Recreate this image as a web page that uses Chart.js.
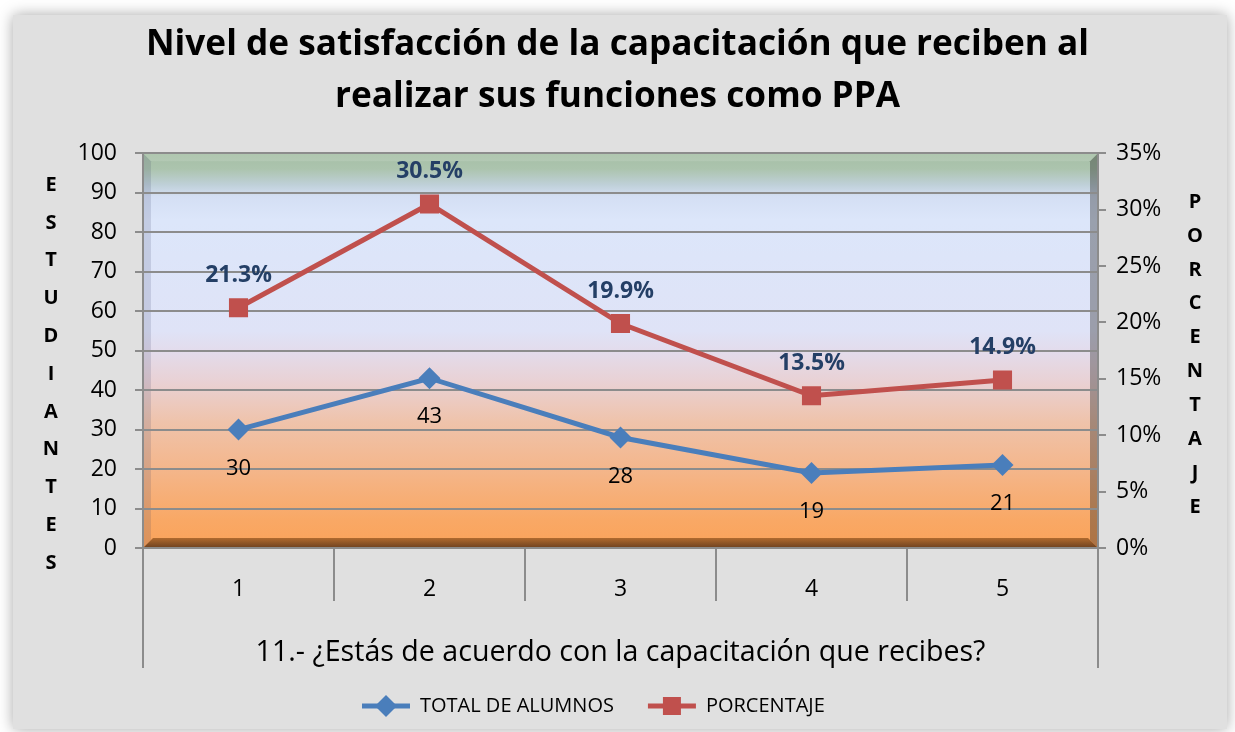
<!DOCTYPE html>
<html>
<head>
<meta charset="utf-8">
<script src="https://cdn.jsdelivr.net/npm/chart.js@4.4.1/dist/chart.umd.min.js"></script>
<style>
  html, body { margin: 0; padding: 0; background: #fff; }
  #wrap { width: 1235px; height: 732px; }
</style>
</head>
<body>
<div id="wrap"><canvas id="chart" width="1235" height="732"></canvas></div>
<script>
// data
const categories = ['1', '2', '3', '4', '5'];
const totalAlumnos = [30, 43, 28, 19, 21];
const porcentaje = [21.3, 30.5, 19.9, 13.5, 14.9];
const titleLines = ['Nivel de satisfacción de la capacitación que reciben al', 'realizar sus funciones como PPA'];
const xTitle = '11.- ¿Estás de acuerdo con la capacitación que recibes?';
const leftTitle = 'ESTUDIANTES';
const rightTitle = 'PORCENTAJE';

const FONT = '"Open Sans", "Noto Sans", sans-serif';
const GRID = '#8c8c8c';

// panel + plot-area gradient with bevel
const backgroundPlugin = {
  id: 'background',
  beforeDraw(chart) {
    const ctx = chart.ctx;
    const a = chart.chartArea;

    // legend sits a little left of centre in the original
    const lg = chart.legend;
    if (!lg._moved && lg.legendHitBoxes.length) {
      const first = lg.legendHitBoxes[0];
      const dx = 362 - first.left;
      const dy = 706 - (first.top + first.height / 2);
      lg.left += dx; lg.right += dx; lg.top += dy; lg.bottom += dy;
      lg.legendHitBoxes.forEach(h => { h.left += dx; h.top += dy; });
      lg._moved = true;
    }

    ctx.save();
    ctx.fillStyle = '#fff';
    ctx.fillRect(0, 0, chart.width, chart.height);
    ctx.shadowColor = 'rgba(0,0,0,0.35)';
    ctx.shadowBlur = 14;
    ctx.fillStyle = '#e0e0e0';
    ctx.fillRect(13, 15, 1214, 714);
    ctx.shadowColor = 'transparent';
    ctx.shadowBlur = 0;

    const g = ctx.createLinearGradient(0, a.top, 0, a.bottom);
    g.addColorStop(0, '#a5bfa5');
    g.addColorStop(0.04, '#acc4ae');
    g.addColorStop(0.08, '#bfd0d8');
    g.addColorStop(0.11, '#d4dff4');
    g.addColorStop(0.17, '#dce6fa');
    g.addColorStop(0.45, '#dfe3f7');
    g.addColorStop(0.5, '#e3dcec');
    g.addColorStop(0.58, '#e9d1d4');
    g.addColorStop(0.68, '#efc3ab');
    g.addColorStop(0.8, '#f4b68b');
    g.addColorStop(0.93, '#f9a865');
    g.addColorStop(1, '#fba35a');
    ctx.fillStyle = g;
    ctx.fillRect(a.left, a.top, a.right - a.left, a.bottom - a.top);

    const b = 8;
    // left bevel
    ctx.fillStyle = 'rgba(40,50,90,0.14)';
    ctx.beginPath();
    ctx.moveTo(a.left, a.top); ctx.lineTo(a.left + b, a.top + b);
    ctx.lineTo(a.left + b, a.bottom - b); ctx.lineTo(a.left, a.bottom);
    ctx.closePath(); ctx.fill();
    // right bevel
    ctx.fillStyle = 'rgba(30,30,30,0.35)';
    ctx.beginPath();
    ctx.moveTo(a.right, a.top); ctx.lineTo(a.right - b, a.top + b);
    ctx.lineTo(a.right - b, a.bottom - b); ctx.lineTo(a.right, a.bottom);
    ctx.closePath(); ctx.fill();
    // top bevel
    ctx.fillStyle = 'rgba(255,255,255,0.12)';
    ctx.beginPath();
    ctx.moveTo(a.left, a.top); ctx.lineTo(a.right, a.top);
    ctx.lineTo(a.right - b, a.top + b); ctx.lineTo(a.left + b, a.top + b);
    ctx.closePath(); ctx.fill();
    // bottom bevel
    const bg = ctx.createLinearGradient(0, a.bottom - 10, 0, a.bottom);
    bg.addColorStop(0, '#b06a2e');
    bg.addColorStop(1, '#6d4120');
    ctx.fillStyle = bg;
    ctx.beginPath();
    ctx.moveTo(a.left, a.bottom); ctx.lineTo(a.right, a.bottom);
    ctx.lineTo(a.right - 10, a.bottom - 10); ctx.lineTo(a.left + 10, a.bottom - 10);
    ctx.closePath(); ctx.fill();
    ctx.restore();
  }
};

// value labels next to the points
const labelsPlugin = {
  id: 'pointLabels',
  afterDatasetsDraw(chart) {
    const ctx = chart.ctx;
    ctx.save();
    ctx.textAlign = 'center';
    ctx.textBaseline = 'middle';
    chart.getDatasetMeta(0).data.forEach((pt, i) => {
      ctx.font = '22px ' + FONT;
      ctx.fillStyle = '#000';
      ctx.fillText(String(totalAlumnos[i]), pt.x, pt.y + 39);
    });
    chart.getDatasetMeta(1).data.forEach((pt, i) => {
      ctx.font = 'bold 23px ' + FONT;
      ctx.fillStyle = '#243f66';
      ctx.fillText(porcentaje[i].toFixed(1) + '%', pt.x, pt.y - 32);
    });
    ctx.restore();
  }
};

// stacked axis titles, long outer axis lines, legend markers
const extrasPlugin = {
  id: 'extras',
  afterDraw(chart) {
    const ctx = chart.ctx;
    const a = chart.chartArea;
    ctx.save();
    ctx.strokeStyle = GRID;
    ctx.lineWidth = 2;
    ctx.beginPath();
    ctx.moveTo(a.left, a.bottom); ctx.lineTo(a.left, 668);
    ctx.moveTo(a.right, a.bottom); ctx.lineTo(a.right, 668);
    ctx.stroke();

    ctx.fillStyle = '#000';
    ctx.font = 'bold 20px ' + FONT;
    ctx.textAlign = 'center';
    ctx.textBaseline = 'middle';
    leftTitle.split('').forEach((ch, i) => ctx.fillText(ch, 51, 185 + i * 37.8));
    rightTitle.split('').forEach((ch, i) => ctx.fillText(ch, 1195, 202 + i * 33.9));

    const legend = chart.legend;
    legend.legendHitBoxes.forEach((box, i) => {
      const ds = chart.data.datasets[i];
      const cx = box.left + 24;
      const cy = box.top + box.height / 2;
      ctx.fillStyle = ds.borderColor;
      ctx.beginPath();
      if (i === 0) {
        ctx.moveTo(cx, cy - 11); ctx.lineTo(cx + 11, cy);
        ctx.lineTo(cx, cy + 11); ctx.lineTo(cx - 11, cy);
      } else {
        ctx.rect(cx - 9, cy - 9, 18, 18);
      }
      ctx.closePath();
      ctx.fill();
    });
    ctx.restore();
  }
};

new Chart(document.getElementById('chart'), {
  type: 'line',
  data: {
    labels: categories,
    datasets: [
      {
        label: 'TOTAL DE ALUMNOS',
        data: totalAlumnos,
        yAxisID: 'y',
        borderColor: '#4a7ebb',
        backgroundColor: '#4a7ebb',
        borderWidth: 5,
        pointStyle: 'rectRot',
        pointRadius: 11,
        pointBorderWidth: 0,
        tension: 0
      },
      {
        label: 'PORCENTAJE',
        data: porcentaje,
        yAxisID: 'y1',
        borderColor: '#c0504d',
        backgroundColor: '#c0504d',
        borderWidth: 5,
        pointStyle: 'rect',
        pointRadius: 13.5,
        pointBorderWidth: 0,
        tension: 0
      }
    ]
  },
  options: {
    responsive: false,
    animation: false,
    events: [],
    layout: { padding: { left: 0, right: 0, top: 0, bottom: 3 } },
    plugins: {
      title: {
        display: true,
        text: titleLines,
        color: '#000',
        font: { family: FONT, size: 35.2, weight: 'bold', lineHeight: 1.48 },
        padding: { top: 19, bottom: 30 }
      },
      legend: {
        position: 'bottom',
        labels: {
          color: '#000',
          font: { family: FONT, size: 20 },
          boxWidth: 48,
          boxHeight: 5,
          padding: 34,
          generateLabels(chart) {
            return chart.data.datasets.map((ds, i) => ({
              text: ds.label,
              fillStyle: ds.borderColor,
              strokeStyle: ds.borderColor,
              lineWidth: 0,
              datasetIndex: i,
              hidden: false
            }));
          }
        }
      },
      tooltip: { enabled: false }
    },
    scales: {
      x: {
        offset: true,
        afterFit(scale) { scale.height = 117; },
        grid: { offset: true, drawOnChartArea: false, color: GRID, lineWidth: 2, tickLength: 53 },
        border: { display: false },
        ticks: { color: '#000', font: { family: FONT, size: 23 }, padding: -25 },
        title: {
          display: true,
          text: xTitle,
          color: '#000',
          font: { family: FONT, size: 28.6 },
          padding: { top: 0, bottom: -5 }
        }
      },
      y: {
        position: 'left',
        min: 0,
        max: 100,
        afterFit(scale) { scale.width = 143; },
        ticks: { stepSize: 10, color: '#000', font: { family: FONT, size: 23 }, padding: 18 },
        grid: { color: GRID, lineWidth: 2, tickLength: 8 },
        border: { color: GRID, width: 2 }
      },
      y1: {
        position: 'right',
        min: 0,
        max: 35,
        afterFit(scale) { scale.width = 137; },
        ticks: { stepSize: 5, color: '#000', font: { family: FONT, size: 23 }, padding: 10,
          callback: v => v + '%' },
        grid: { drawOnChartArea: false, color: GRID, lineWidth: 2, tickLength: 8 },
        border: { color: GRID, width: 2 }
      }
    }
  },
  plugins: [backgroundPlugin, labelsPlugin, extrasPlugin]
});
</script>
</body>
</html>
